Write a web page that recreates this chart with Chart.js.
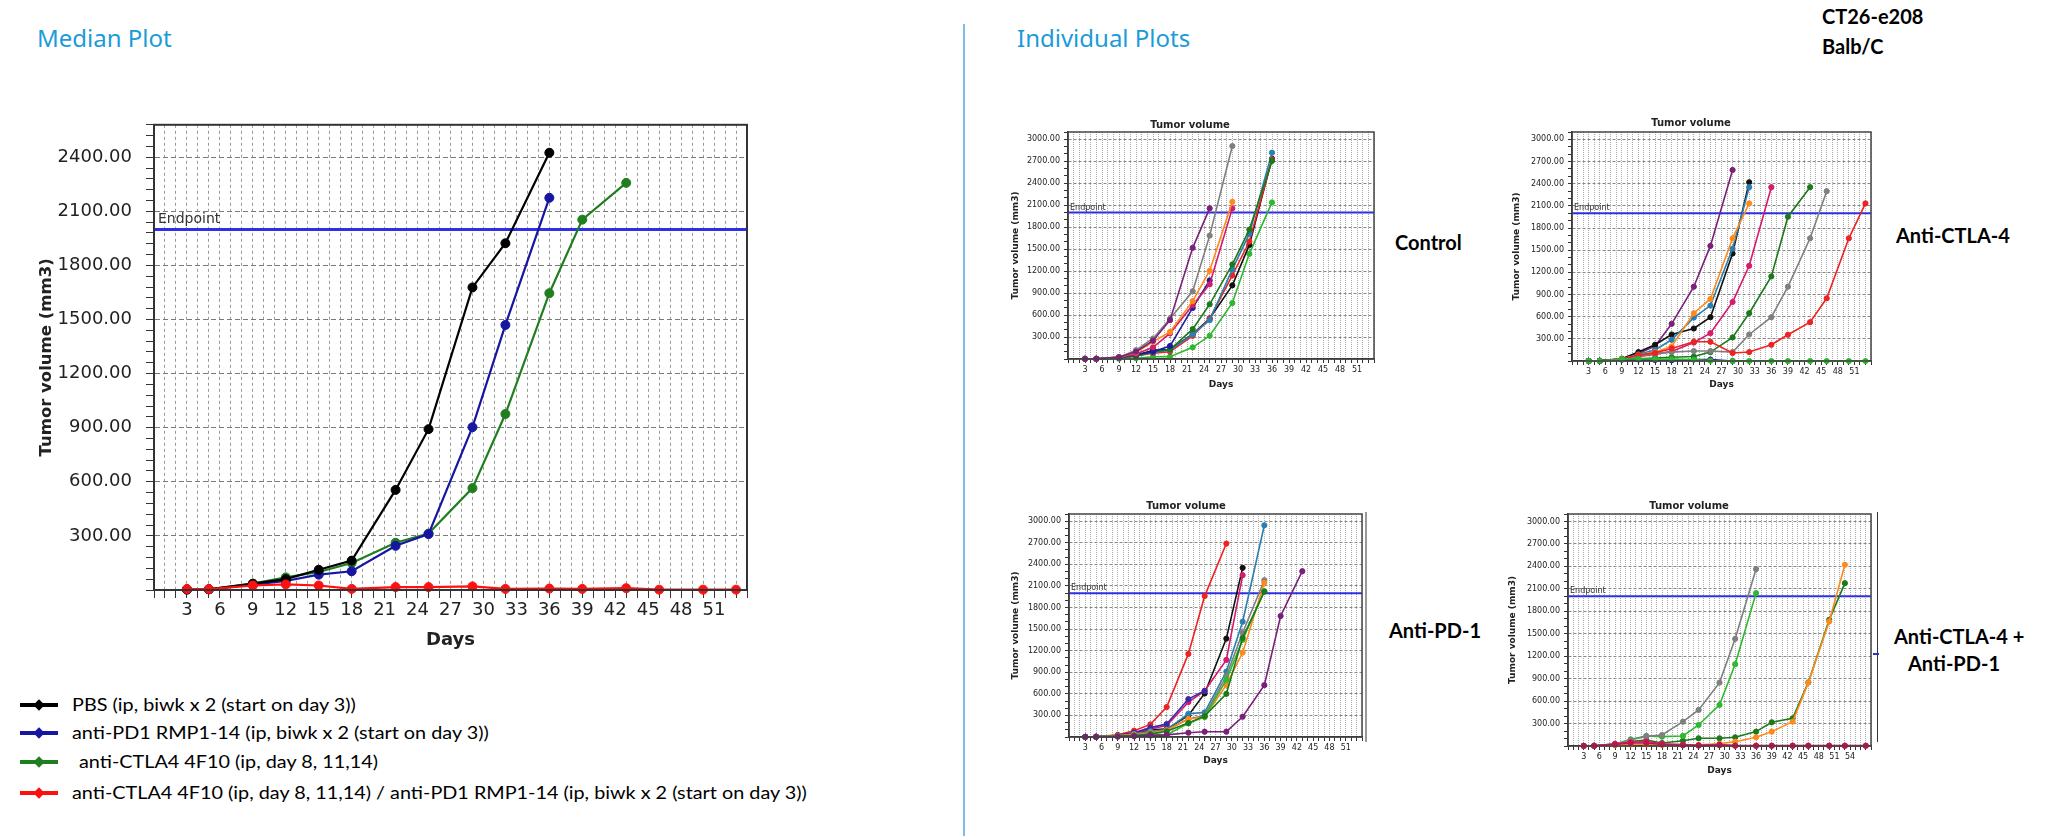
<!DOCTYPE html>
<html>
<head>
<meta charset="utf-8">
<script src="https://cdn.jsdelivr.net/npm/chart.js@4.4.0/dist/chart.umd.min.js"></script>
<style>
  html, body { margin: 0; padding: 0; background: #fff; }
  body { width: 2048px; height: 836px; position: relative; overflow: hidden; }
  canvas { position: absolute; }
  .head { position: absolute; color: #1b9bd8; font: 24px 'Noto Sans', sans-serif; line-height: 1; }
  .divider { position: absolute; left: 963px; top: 24px; width: 2px; height: 812px; background: #7fbde3; }
  .tag { position: absolute; font: bold 20px Lato, sans-serif; color: #000; line-height: 1; white-space: nowrap; }
  .legend { position: absolute; left: 20px; top: 690px; font: 16.5px Lato, sans-serif; color: #000; }
  .legend .row { position: absolute; left: 0; white-space: nowrap; height: 20px; line-height: 20px; }
  .legend .mk { position: absolute; left: 0; top: 8px; width: 38px; height: 4px; }
  .legend .mk::after { content: ''; position: absolute; left: 15px; top: -2.5px; width: 8px; height: 8px; background: inherit; transform: rotate(45deg); }
  .legend .tx { position: absolute; left: 52px; top: 0; transform: scaleX(1.2); transform-origin: left center; }
  .deco { position: absolute; }
</style>
</head>
<body>
<div class="head" style="left:37px; top:26px;">Median Plot</div>
<div class="head" style="left:1017px; top:26px;">Individual Plots</div>
<div class="divider"></div>
<div class="tag" style="left:1822px; top:6px;">CT26-e208</div>
<div class="tag" style="left:1822px; top:36px;">Balb/C</div>

<canvas id="median" width="757" height="560" style="left:0px; top:100px;"></canvas>
<canvas id="control" width="374" height="276" style="left:1006px; top:119px;"></canvas>
<canvas id="ctla4" width="366" height="280" style="left:1511px; top:117px;"></canvas>
<canvas id="pd1" width="358" height="273" style="left:1010px; top:500px;"></canvas>
<canvas id="combo" width="370" height="282" style="left:1507px; top:500px;"></canvas>

<div class="tag" style="left:1395px; top:232px;">Control</div>
<div class="tag" style="left:1896px; top:225px;">Anti-CTLA-4</div>
<div class="tag" style="left:1389px; top:620px;">Anti-PD-1</div>
<div class="tag" style="left:1894px; top:626px;">Anti-CTLA-4 +</div>
<div class="tag" style="left:1908px; top:653px;">Anti-PD-1</div>

<div class="deco" style="left:1365px; top:512px; width:2px; height:230px; background:#999;"></div>
<div class="deco" style="left:1877px; top:512px; width:1px; height:230px; background:#333;"></div>
<div class="deco" style="left:1873px; top:653px; width:6px; height:2px; background:#3030d0;"></div>

<div class="legend">
  <div class="row" style="top:5px;"><span class="mk" style="background:#000000"></span><span class="tx">PBS (ip, biwk x 2 (start on day 3))</span></div>
  <div class="row" style="top:33px;"><span class="mk" style="background:#1616a0"></span><span class="tx">anti-PD1 RMP1-14 (ip, biwk x 2 (start on day 3))</span></div>
  <div class="row" style="top:62px;"><span class="mk" style="background:#1f7f1f"></span><span class="tx" style="left:59px">anti-CTLA4 4F10 (ip, day 8, 11,14)</span></div>
  <div class="row" style="top:93px;"><span class="mk" style="background:#ff1010"></span><span class="tx">anti-CTLA4 4F10 (ip, day 8, 11,14) / anti-PD1 RMP1-14 (ip, biwk x 2 (start on day 3))</span></div>
</div>

<script>
// measurement days
const days = [3, 5, 9, 12, 15, 18, 22, 25, 29, 32, 36, 39, 43, 46, 50, 53];
const daysCombo = [3, 5, 9, 12, 15, 18, 22, 25, 29, 32, 36, 39, 43, 46, 50, 53, 57];
const endpoint = 2000;

// tick labels
const xTicks = [3, 6, 9, 12, 15, 18, 21, 24, 27, 30, 33, 36, 39, 42, 45, 48, 51];
const xTicksCombo = [3, 6, 9, 12, 15, 18, 21, 24, 27, 30, 33, 36, 39, 42, 45, 48, 51, 54];
const yTicksMedian = [300, 600, 900, 1200, 1500, 1800, 2100, 2400];
const yTicksIndiv = [300, 600, 900, 1200, 1500, 1800, 2100, 2400, 2700, 3000];

// median plot
const pbsMedian = [3, 4, 35, 60, 112, 163, 555, 892, 1678, 1923, 2425];
const pd1Median = [3, 4, 30, 50, 85, 104, 245, 310, 903, 1470, 2175];
const ctla4Median = [3, 4, 35, 70, 100, 150, 262, 313, 565, 976, 1646, 2054, 2258];
const comboMedian = [5, 5, 25, 31, 25, 6, 16, 16, 20, 6, 8, 6, 10, 2, 2, 2];

// individual plots - Control
const ctrlPurple = [2, 3, 25, 100, 250, 530, 1518, 2057];
const ctrlGray = [2, 3, 25, 120, 280, 550, 925, 1685, 2908];
const ctrlOrange = [2, 3, 25, 90, 235, 370, 790, 1205, 2147];
const ctrlMagenta = [2, 3, 20, 70, 160, 350, 735, 1020, 2057];
const ctrlNavy = [2, 3, 20, 60, 100, 177, 698, 1073];
const ctrlDarkGreen = [2, 3, 15, 40, 100, 130, 408, 747, 1291, 1767, 2705];
const ctrlTeal = [2, 3, 15, 40, 90, 120, 335, 530, 1223, 1708, 2818];
const ctrlRed = [2, 3, 15, 40, 80, 100, 317, 553, 1142, 1604, 2727];
const ctrlBlack = [2, 3, 15, 50, 120, 130, 340, 553, 1006, 1558, 2736];
const ctrlGreen = [2, 3, 5, 10, 30, 32, 159, 317, 765, 1436, 2138];

// Anti-CTLA-4
const ctlaPurple = [2, 3, 30, 100, 200, 503, 1006, 1558, 2586];
const ctlaBlack = [2, 3, 30, 121, 220, 359, 440, 593, 1455, 2420];
const ctlaTeal = [2, 3, 25, 90, 150, 287, 588, 750, 1522, 2353];
const ctlaOrange = [2, 3, 25, 80, 120, 198, 647, 840, 1661, 2133];
const ctlaMagenta = [2, 3, 25, 60, 90, 130, 250, 377, 799, 1289, 2353];
const ctlaDarkGreen = [2, 3, 20, 30, 40, 50, 60, 120, 319, 647, 1145, 1953, 2353];
const ctlaGray = [2, 3, 20, 60, 100, 120, 135, 135, 121, 359, 593, 1006, 1661, 2299];
const ctlaRed = [2, 3, 25, 80, 110, 170, 260, 260, 108, 121, 220, 355, 525, 849, 1661, 2133];
const ctlaNavy = [2, 3, 20, 20, 15, 10, 20, 20, 0];
const ctlaGreen = [2, 3, 25, 30, 25, 25, 20, 5, 0, 0, 0, 0, 0, 0, 0, 0];

// Anti-PD-1
const pdRed = [2, 3, 30, 88, 175, 416, 1155, 1959, 2689];
const pdBlack = [2, 3, 20, 50, 100, 110, 300, 605, 1368, 2352];
const pdMagenta = [2, 3, 20, 60, 110, 160, 485, 642, 1072, 2250];
const pdIndigo = [2, 3, 20, 60, 130, 180, 527, 642];
const pdTeal = [2, 3, 15, 40, 80, 100, 323, 342, 910, 1603, 2943];
const pdGray = [2, 3, 15, 40, 70, 100, 250, 300, 850, 1450, 2180];
const pdOrange = [2, 3, 15, 30, 50, 90, 250, 277, 725, 1173, 2144];
const pdGreen = [2, 3, 10, 20, 40, 30, 190, 280, 795, 1350, 2028];
const pdDarkGreen = [2, 3, 10, 20, 40, 80, 194, 290, 600, 1380, 2020];
const pdPurple = [2, 3, 5, 10, 20, 30, 60, 74, 74, 282, 721, 1682, 2305];

// Anti-CTLA-4 + Anti-PD-1
const comboGray = [2, 3, 25, 80, 130, 147, 325, 482, 847, 1432, 2364];
const comboGreen = [2, 3, 25, 89, 134, 125, 134, 281, 549, 1093, 2043];
const comboDarkGreen = [2, 3, 20, 60, 80, 40, 71, 103, 103, 116, 192, 317, 370, 850, 1686, 2176];
const comboOrange = [2, 3, 10, 20, 20, 15, 10, 15, 30, 58, 116, 192, 326, 847, 1664, 2422];
const comboCrimson = [2, 3, 20, 40, 40, 20, 10, 5, 10, 5, 5, 5, 5, 5, 5, 5, 5];
const comboRed = [2, 3, 30, 50, 60, 30, 20, 10, 20, 5, 2, 2, 2, 2, 2, 2, 2];

const col = {
  purple: '#7a1f7a', gray: '#7f7f7f', orange: '#ff8a1c', magenta: '#d61a6e',
  navy: '#1c1c9c', dgreen: '#1a7a1a', teal: '#2b7fb0', red: '#ee2222',
  black: '#111111', green: '#2db82d', indigo: '#3a2aa8', crimson: '#c8104f'
};

Chart.defaults.font.family = "'DejaVu Sans', sans-serif";

function toPoints(xs, ys) {
  return ys.map((v, i) => ({ x: xs[i], y: v }));
}

function series(xs, ys, color, w, r, order) {
  return {
    data: toPoints(xs, ys),
    borderColor: color,
    backgroundColor: color,
    pointBackgroundColor: color,
    pointBorderColor: color,
    borderWidth: w,
    pointRadius: r,
    pointBorderWidth: 1,
    tension: 0,
    clip: false,
    order: order
  };
}

function endpointLine(xMax, w) {
  return {
    data: [{ x: 0, y: endpoint }, { x: xMax, y: endpoint }],
    borderColor: '#2f2fe6',
    borderWidth: w,
    pointRadius: 0,
    order: 20
  };
}

// frame round the plot area and the "Endpoint" note
const framePlugin = {
  id: 'frame',
  afterDatasetsDraw(chart, args, opts) {
    const { ctx, chartArea: a, scales: { y } } = chart;
    ctx.save();
    ctx.strokeStyle = opts.color;
    ctx.lineWidth = opts.width;
    ctx.strokeRect(a.left, a.top, a.right - a.left, a.bottom - a.top);
    ctx.fillStyle = '#333';
    ctx.font = opts.font;
    ctx.textBaseline = 'bottom';
    ctx.fillText('Endpoint', a.left + opts.dx, y.getPixelForValue(endpoint) - opts.dy);
    ctx.restore();
  }
};

function makeChart(id, o) {
  return new Chart(document.getElementById(id), {
    type: 'line',
    data: { datasets: o.datasets },
    options: {
      responsive: false,
      animation: false,
      layout: { padding: o.padding },
      plugins: {
        legend: { display: false },
        tooltip: { enabled: false },
        title: o.title ? {
          display: true,
          text: 'Tumor volume',
          color: '#222',
          font: { size: 10, weight: 'bold' },
          padding: { top: 0, bottom: o.titleGap }
        } : { display: false },
        frame: o.frame
      },
      scales: {
        x: {
          type: 'linear',
          min: 0,
          max: o.xMax,
          afterFit: s => { s.height = o.xH; },
          ticks: {
            stepSize: 1,
            autoSkip: false,
            maxRotation: 0,
            minRotation: 0,
            padding: o.xPad,
            color: '#222',
            font: o.tickFont,
            callback: v => o.xLabels.includes(v) ? String(v) : ''
          },
          grid: { color: o.vGrid, lineWidth: 1, tickLength: o.tickLen, tickColor: '#333' },
          border: { color: '#222', width: o.axisW, dash: o.vDash },
          title: {
            display: true,
            text: 'Days',
            color: '#222',
            font: o.axisFont,
            padding: { top: 0, bottom: o.daysPad }
          }
        },
        y: {
          min: 0,
          max: o.yMax,
          afterFit: s => { s.width = o.yW; },
          ticks: {
            stepSize: o.yStep,
            autoSkip: false,
            padding: o.yPad,
            color: '#222',
            font: o.tickFont,
            callback: v => o.yLabels.includes(v) ? v.toFixed(2) : ''
          },
          grid: {
            color: c => (c.tick && o.yLabels.includes(c.tick.value)) ? o.hGrid : 'rgba(0,0,0,0)',
            lineWidth: 1,
            tickLength: o.tickLen,
            tickColor: '#333'
          },
          border: { color: '#222', width: o.axisW, dash: o.hDash },
          title: {
            display: true,
            text: 'Tumor volume (mm3)',
            color: '#222',
            font: o.yAxisFont || o.axisFont,
            padding: { top: o.yTitlePad, bottom: 0 }
          }
        }
      }
    },
    plugins: [framePlugin]
  });
}

// median plot
makeChart('median', {
  datasets: [
    series(days, comboMedian, '#ff1010', 2.2, 4.5, 0),
    series(days, pbsMedian, '#000000', 2.2, 4.5, 1),
    series(days, pd1Median, '#1616a0', 2.2, 4.5, 1),
    series(days, ctla4Median, '#1f7f1f', 2.2, 4.5, 1),
    endpointLine(54, 3)
  ],
  padding: { top: 18, right: 10, left: 0, bottom: 0 },
  xMax: 54, yMax: 2580, yStep: 60,
  xLabels: xTicks, yLabels: yTicksMedian,
  xH: 70, yW: 154, xPad: 2, yPad: 14, tickLen: 8,
  tickFont: { size: 18 },
  axisFont: { size: 18, weight: 'bold' },
  yAxisFont: { size: 16.5, weight: 'bold' },
  daysPad: 9, yTitlePad: 37,
  vGrid: '#9a9a9a', hGrid: '#7a7a7a', vDash: [3, 3], hDash: [5, 3],
  axisW: 2,
  frame: { color: '#333', width: 2, font: '14px "DejaVu Sans"', dx: 4, dy: 3 }
});

function small(id, xs, list, geo) {
  const ds = list.map(m => series(xs, m[0], m[1], 1.6, 2.6, 1));
  ds.push(endpointLine(geo.xMax, 2));
  makeChart(id, Object.assign({
    datasets: ds,
    title: true,
    padding: { top: 0, right: 6, left: 0, bottom: 0 },
    yMax: 3100, yStep: 100,
    xLabels: xTicks, yLabels: yTicksIndiv,
    xH: 36, xPad: 2, yPad: 4, tickLen: 4,
    tickFont: { size: 8 },
    axisFont: { size: 9, weight: 'bold' },
    vGrid: '#ababab', hGrid: '#888888', vDash: [1, 1], hDash: [3, 2],
    axisW: 1.5,
    frame: { color: '#444', width: 1.5, font: '8px "DejaVu Sans"', dx: 2, dy: 1 }
  }, geo));
}

small('control', days, [
  [ctrlPurple, col.purple], [ctrlGray, col.gray], [ctrlOrange, col.orange],
  [ctrlMagenta, col.magenta], [ctrlNavy, col.navy], [ctrlDarkGreen, col.dgreen],
  [ctrlTeal, col.teal], [ctrlRed, col.red], [ctrlBlack, col.black], [ctrlGreen, col.green]
], { xMax: 54, yW: 62, yTitlePad: 4.6, titleGap: 1, daysPad: 4.6 });

small('ctla4', days, [
  [ctlaGreen, col.green], [ctlaNavy, col.navy], [ctlaRed, col.red], [ctlaGray, col.gray],
  [ctlaDarkGreen, col.dgreen], [ctlaMagenta, col.magenta], [ctlaOrange, col.orange],
  [ctlaTeal, col.teal], [ctlaBlack, col.black], [ctlaPurple, col.purple]
], { xMax: 54, yW: 61, yTitlePad: 0.6, titleGap: 3, daysPad: 6.6 });

small('pd1', days, [
  [pdPurple, col.purple], [pdDarkGreen, col.dgreen], [pdGreen, col.green], [pdOrange, col.orange],
  [pdGray, col.gray], [pdTeal, col.teal], [pdIndigo, col.indigo], [pdMagenta, col.magenta],
  [pdBlack, col.black], [pdRed, col.red]
], { xMax: 54, yW: 59, yTitlePad: 0.6, titleGap: 2, daysPad: 6.6 });

small('combo', daysCombo, [
  [comboCrimson, col.crimson], [comboRed, col.magenta], [comboGray, col.gray],
  [comboGreen, col.green], [comboOrange, col.orange], [comboDarkGreen, col.dgreen]
], { xMax: 58, xLabels: xTicksCombo, yW: 61, yTitlePad: 0.6, titleGap: 2, daysPad: 5.6 });
</script>
</body>
</html>
